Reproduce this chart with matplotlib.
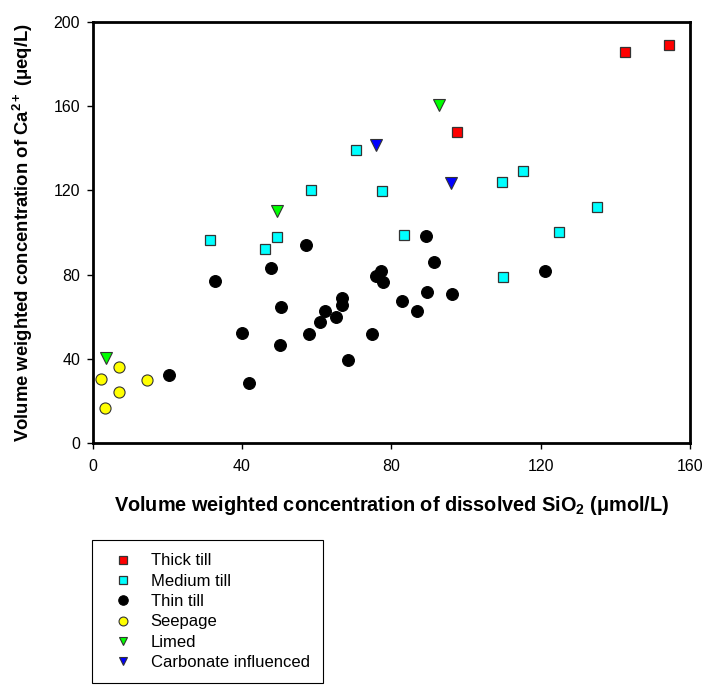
import matplotlib
matplotlib.use("Agg")
import matplotlib.pyplot as plt

plt.rcParams['font.family'] = ['Liberation Sans', 'DejaVu Sans']
plt.rcParams['mathtext.fontset'] = 'custom'
plt.rcParams['mathtext.rm'] = 'Liberation Sans:bold'
plt.rcParams['mathtext.it'] = 'Liberation Sans:bold'
plt.rcParams['mathtext.bf'] = 'Liberation Sans:bold'

# Données (SiO2 en µmol/L, Ca2+ en µeq/L)
thick_x = [142.5, 154.5, 97.5]
thick_y = [185.9, 189.1, 148.0]

medium_x = [31.4, 46.2, 49.3, 58.4, 70.5, 77.6, 83.5, 109.6, 115.2, 125.0, 135.0, 109.9]
medium_y = [96.6, 92.2, 98.0, 120.2, 139.2, 119.7, 98.6, 124.2, 129.4, 100.1, 111.9, 78.9]

thin_x = [57.2, 47.9, 32.9, 77.2, 75.9, 77.7, 50.4, 66.9, 66.7, 62.1, 65.1, 61.0, 40.1,
          57.9, 74.7, 50.2, 68.3, 20.4, 41.9, 89.4, 91.5, 121.2, 89.5, 96.3, 82.8, 86.8]
thin_y = [94.1, 83.3, 76.9, 81.8, 79.4, 76.5, 64.6, 68.7, 65.4, 62.7, 59.8, 57.6, 52.0,
          51.9, 51.6, 46.3, 39.2, 32.3, 28.4, 98.2, 86.2, 81.9, 71.5, 70.8, 67.3, 62.6]

seep_x = [7.0, 2.1, 14.5, 7.1, 3.3]
seep_y = [36.0, 30.2, 29.7, 24.0, 16.4]

limed_x = [92.8, 49.4, 3.5]
limed_y = [160.7, 110.2, 40.3]

carb_x = [75.8, 96.0]
carb_y = [141.6, 123.4]

fig = plt.figure(figsize=(7.09, 6.88), dpi=100)
ax = fig.add_axes([0.1307, 0.3565, 0.8425, 0.6111])

ax.plot(thick_x, thick_y, 's', ms=6.5, mfc='#ff0000', mec='#333333', mew=0.9, label='Thick till')
ax.plot(medium_x, medium_y, 's', ms=6.5, mfc='#00ffff', mec='#333333', mew=0.9, label='Medium till')
ax.plot(thin_x, thin_y, 'o', ms=8.5, mfc='black', mec='black', mew=0.8, label='Thin till')
ax.plot(seep_x, seep_y, 'o', ms=8, mfc='#ffff00', mec='#333333', mew=0.8, label='Seepage')
ax.plot(limed_x, limed_y, 'v', ms=8, mfc='#00ff00', mec='#333333', mew=0.8, label='Limed')
ax.plot(carb_x, carb_y, 'v', ms=8, mfc='#0000ff', mec='#333333', mew=0.8, label='Carbonate influenced')

ax.set_xlim(0, 160)
ax.set_ylim(0, 200)
ax.set_xticks([0, 40, 80, 120, 160])
ax.set_yticks([0, 40, 80, 120, 160, 200])
for s in ax.spines.values():
    s.set_linewidth(2)
ax.tick_params(direction='out', length=4, width=1, labelsize=11.5, pad=5)
ax.tick_params(axis='x', pad=8)

ax.set_xlabel('Volume weighted concentration of dissolved SiO$_2$ ($\\mathregular{\\mu}$mol/L)',
              fontsize=14.3, fontweight='bold', labelpad=14)
ax.set_ylabel('Volume weighted concentration of Ca$^{2+}$ ($\\mathregular{\\mu}$eq/L)',
              fontsize=13.3, fontweight='bold', labelpad=13)

leg = fig.legend(loc='upper left', bbox_to_anchor=(0.1293, 0.2151), fontsize=12,
                 frameon=True, fancybox=False, edgecolor='black', framealpha=1,
                 handletextpad=0.64, borderpad=0.8, labelspacing=0.32, handlelength=2.1,
                 borderaxespad=0, markerscale=0.8)
leg.get_frame().set_linewidth(0.8)

fig.savefig('out.png', dpi=100)
